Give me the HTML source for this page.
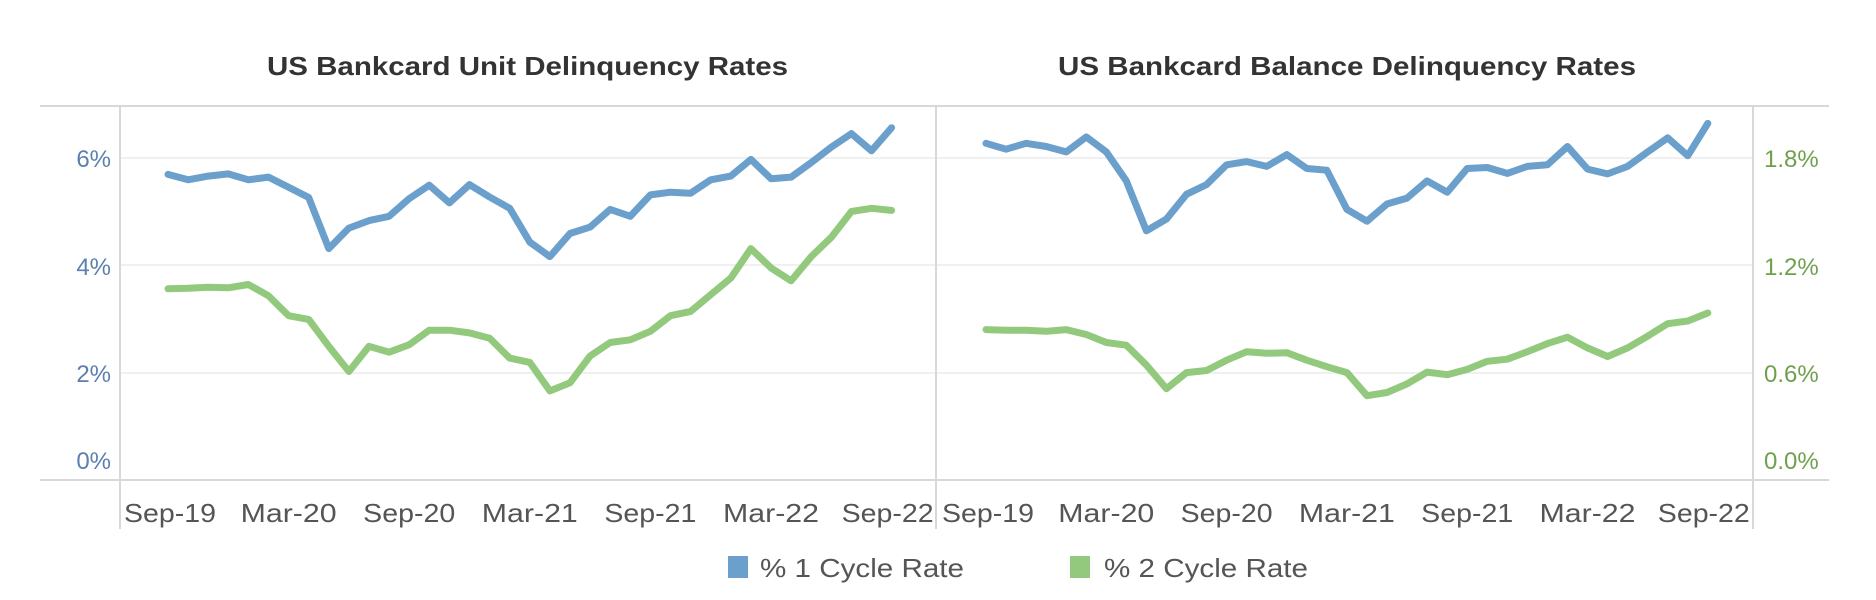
<!DOCTYPE html>
<html><head><meta charset="utf-8"><style>
html,body{margin:0;padding:0;background:#fff;}
svg{display:block;font-family:"Liberation Sans",sans-serif;}
</style></head><body>
<svg id="s" width="1876" height="600" xmlns="http://www.w3.org/2000/svg">
<rect width="1876" height="600" fill="#fff"/>
<text x="267" y="75" font-size="26" font-weight="bold" fill="#333" textLength="521" lengthAdjust="spacingAndGlyphs">US Bankcard Unit Delinquency Rates</text>
<text x="1058" y="75" font-size="26" font-weight="bold" fill="#333" textLength="578" lengthAdjust="spacingAndGlyphs">US Bankcard Balance Delinquency Rates</text>
<g stroke="#f0f0f0" stroke-width="2">
<line x1="120" y1="158" x2="936" y2="158"/><line x1="120" y1="265" x2="936" y2="265"/><line x1="120" y1="373" x2="936" y2="373"/>
<line x1="936" y1="158" x2="1753" y2="158"/><line x1="936" y1="265" x2="1753" y2="265"/><line x1="936" y1="373" x2="1753" y2="373"/>
</g>
<g stroke="#d8d8d8" stroke-width="2">
<line x1="40" y1="106" x2="1829" y2="106"/>
<line x1="40" y1="480" x2="1829" y2="480"/>
<line x1="120" y1="106" x2="120" y2="529"/>
<line x1="936" y1="106" x2="936" y2="529"/>
<line x1="1753" y1="106" x2="1753" y2="529"/>
</g>
<g font-size="24" fill="#5b7fb0" text-anchor="end">
<text x="111" y="167">6%</text><text x="111" y="275">4%</text><text x="111" y="382">2%</text><text x="111" y="469">0%</text>
</g>
<g font-size="24" fill="#6fa04d" text-anchor="start">
<text x="1764" y="167">1.8%</text><text x="1764" y="275">1.2%</text><text x="1764" y="382">0.6%</text><text x="1764" y="469">0.0%</text>
</g>
<g id="xl" font-size="26" fill="#555" text-anchor="middle"></g>
<g id="lines" fill="none" stroke-width="7" stroke-linejoin="round" stroke-linecap="round"></g>
<rect x="728" y="556" width="20" height="22" fill="#6b9fcc"/>
<text x="760" y="577" font-size="26" fill="#555" textLength="204" lengthAdjust="spacingAndGlyphs">% 1 Cycle Rate</text>
<rect x="1070" y="556" width="20" height="22" fill="#92c97d"/>
<text x="1104" y="577" font-size="26" fill="#555" textLength="204" lengthAdjust="spacingAndGlyphs">% 2 Cycle Rate</text>
</svg>
<script>
var lb=[5.69,5.59,5.66,5.7,5.59,5.64,5.45,5.26,4.31,4.69,4.83,4.91,5.24,5.49,5.16,5.5,5.27,5.06,4.43,4.16,4.59,4.71,5.04,4.91,5.31,5.36,5.34,5.59,5.66,5.97,5.61,5.64,5.91,6.2,6.45,6.13,6.56];
var lg=[3.56,3.57,3.59,3.58,3.64,3.43,3.06,2.99,2.49,2.02,2.49,2.38,2.52,2.79,2.79,2.74,2.64,2.27,2.19,1.66,1.81,2.31,2.56,2.61,2.77,3.06,3.14,3.45,3.76,4.31,3.95,3.71,4.16,4.52,5.0,5.06,5.02];
var rb=[6.27,6.16,6.27,6.21,6.11,6.39,6.11,5.57,4.64,4.86,5.32,5.5,5.87,5.93,5.84,6.06,5.8,5.77,5.04,4.82,5.14,5.25,5.57,5.36,5.8,5.82,5.71,5.84,5.87,6.21,5.79,5.7,5.84,6.11,6.37,6.04,6.64];
var rg=[2.8,2.79,2.79,2.77,2.8,2.71,2.56,2.51,2.14,1.7,2.0,2.04,2.23,2.39,2.36,2.37,2.23,2.11,2.0,1.57,1.63,1.79,2.01,1.96,2.06,2.21,2.25,2.39,2.54,2.66,2.46,2.3,2.46,2.68,2.91,2.96,3.11];
var NS="http://www.w3.org/2000/svg";
function line(d,x0,st,c){var p=d.map(function(v,i){return (x0+i*st).toFixed(1)+","+(480-v*53.7).toFixed(1)}).join(" ");
var e=document.createElementNS(NS,"polyline");e.setAttribute("points",p);e.setAttribute("stroke",c);document.getElementById("lines").appendChild(e);}
line(lb,168,20.1,"#6b9fcc");line(lg,168,20.1,"#92c97d");line(rb,986,20.05,"#6b9fcc");line(rg,986,20.05,"#92c97d");
var labs=["Sep-19","Mar-20","Sep-20","Mar-21","Sep-21","Mar-22","Sep-22"];
labs.forEach(function(t,k){[[168,20.1],[986,20.05]].forEach(function(a){var e=document.createElementNS(NS,"text");
var x=a[0]+k*6*a[1];if(k==0)x+=2;if(k==6)x+=-4;e.setAttribute("x",x);e.setAttribute("y",522);
e.setAttribute("textLength",t.indexOf("Mar")==0?96:92);e.setAttribute("lengthAdjust","spacingAndGlyphs");
e.textContent=t;document.getElementById("xl").appendChild(e);});});
</script>
</body></html>
